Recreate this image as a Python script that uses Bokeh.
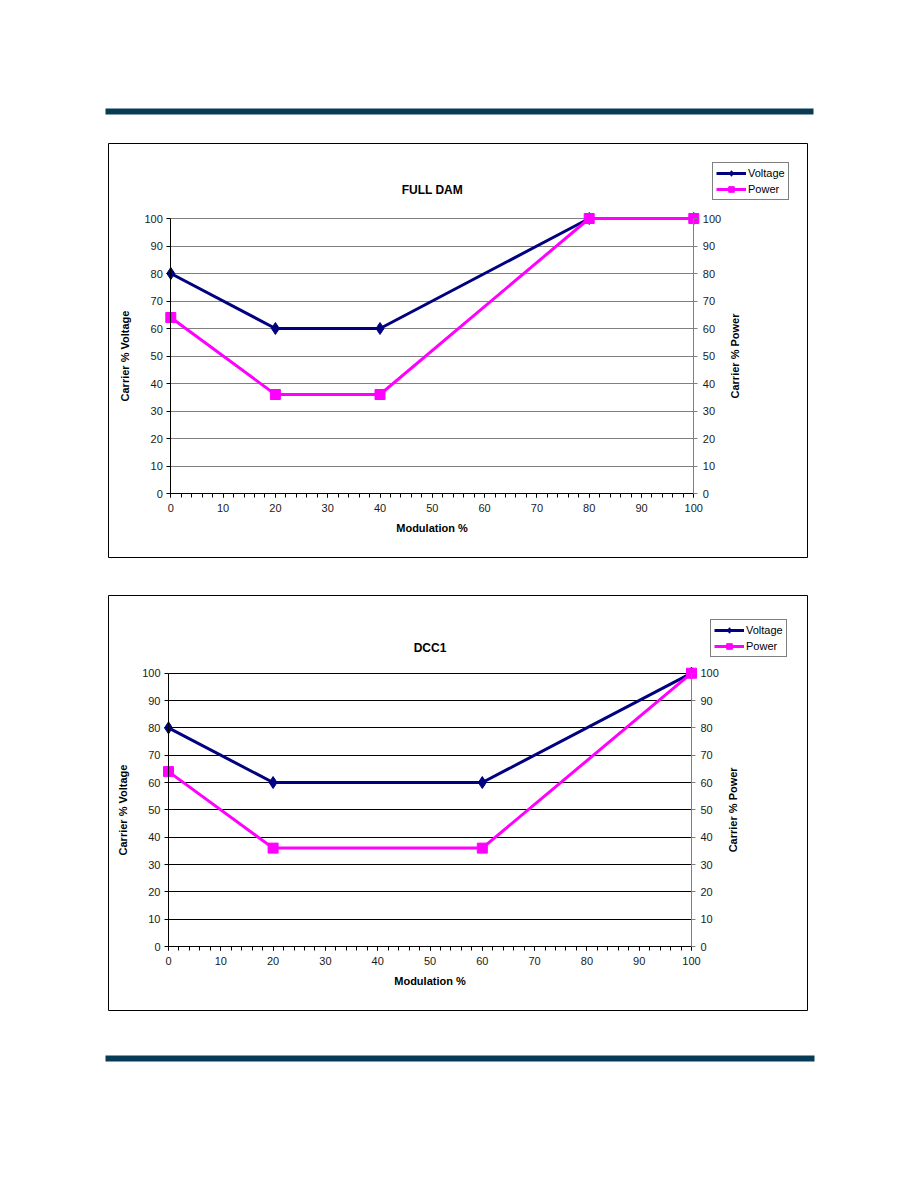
import math
from bokeh.plotting import figure
from bokeh.models import (Range1d, LinearAxis, SingleIntervalTicker, BoxAnnotation,
                          Legend, LegendItem, Label)
from bokeh.layouts import column
from bokeh.embed import file_html
from bokeh.resources import INLINE

# ---------------- data ----------------
mod_full = [0, 20, 40, 80, 100]
volt_full = [80, 60, 60, 100, 100]
power_full = [64, 36, 36, 100, 100]

mod_dcc = [0, 20, 60, 100]
volt_dcc = [80, 60, 60, 100]
power_dcc = [64, 36, 36, 100]

chart_titles = ["FULL DAM", "DCC1"]
series_names = ["Voltage", "Power"]
x_title = "Modulation %"
y_left_title = "Carrier % Voltage"
y_right_title = "Carrier % Power"

# ---------------- style ----------------
FONT = "Liberation Sans"
NAVY = "#000080"
MAG = "#FF00FF"
BAR = "#083B56"
W = 918


def canvas_box(l, r, t, b, **kw):
    return BoxAnnotation(left=l, right=r, top=t, bottom=b,
                         left_units="canvas", right_units="canvas",
                         top_units="canvas", bottom_units="canvas", **kw)


def make_chart(title, xs, volt, power, height, x0_px, x100_px, y0_px, y100_px,
               box, bars, legend_box, grid_color, title_y_px):
    # frame covers the whole canvas; axes are placed at fixed data locations
    kx = (x100_px - x0_px) / 100.0
    ky = (y0_px - y100_px) / 100.0
    xr = Range1d(-x0_px / kx, (W - x0_px) / kx)
    yr = Range1d(-(height - y0_px) / ky, y0_px / ky)
    p = figure(width=W, height=height, x_range=xr, y_range=yr,
               output_backend="svg", toolbar_location=None,
               min_border=0, min_border_left=0, min_border_right=0,
               min_border_top=0, min_border_bottom=0)
    p.outline_line_color = None
    p.background_fill_color = "white"
    p.border_fill_color = "white"

    tick10 = SingleIntervalTicker(interval=10, num_minor_ticks=0)
    xtick = SingleIntervalTicker(interval=10, num_minor_ticks=5)

    def style_axis(ax):
        ax.major_label_text_font = FONT
        ax.major_label_text_font_size = "11px"
        ax.major_label_text_color = "#1a1a1a"
        ax.axis_label_text_font = FONT
        ax.axis_label_text_font_size = "11px"
        ax.axis_label_text_font_style = "bold"
        ax.axis_label_text_color = "black"
        ax.major_tick_in = 0
        ax.major_tick_out = 4
        ax.minor_tick_in = 0
        ax.minor_tick_out = 4
        ax.bounds = (0, 100)

    xa = p.xaxis[0]
    xa.ticker = xtick
    xa.fixed_location = 0
    xa.axis_label = x_title
    style_axis(xa)
    xa.axis_line_color = "black"
    xa.major_label_standoff = 6
    xa.axis_label_standoff = 7

    ya = p.yaxis[0]
    ya.ticker = tick10
    ya.fixed_location = 0
    ya.axis_label = y_left_title
    style_axis(ya)
    ya.axis_line_color = "black"
    ya.major_label_standoff = 4
    ya.axis_label_standoff = 10

    ra = LinearAxis(ticker=SingleIntervalTicker(interval=10, num_minor_ticks=0), fixed_location=100)
    style_axis(ra)
    ra.axis_line_color = "#808080"
    ra.major_tick_line_color = "#808080"
    ra.major_label_standoff = 5
    p.add_layout(ra, "right")

    # right axis title (reads bottom-to-top like the left one)
    p.add_layout(Label(x=100 + 41 / kx, y=50, text=y_right_title, angle=math.pi / 2,
                       text_align="center", text_baseline="middle", text_color="black",
                       text_font=FONT, text_font_size="11px", text_font_style="bold"))
    # chart title
    p.add_layout(Label(x=50, y=(y0_px - title_y_px) / ky, text=title,
                       text_align="center", text_baseline="middle", text_color="black",
                       text_font=FONT, text_font_size="12px", text_font_style="bold"))

    p.xgrid.visible = False
    p.ygrid.ticker = tick10
    p.ygrid.grid_line_color = grid_color
    p.ygrid.grid_line_width = 1
    p.ygrid.cross_bounds = (0, 100)
    p.ygrid.bounds = (0, 100)

    lv = p.line(xs, volt, line_color=NAVY, line_width=3)
    sv = p.scatter(xs, volt, marker="diamond", size=12,
                   fill_color=NAVY, line_color=NAVY)
    lp = p.line(xs, power, line_color=MAG, line_width=3)
    sp = p.scatter(xs, power, marker="square", size=10, fill_color=MAG, line_color=MAG)

    lb_left, lb_bottom = legend_box
    legend = Legend(items=[LegendItem(label=series_names[0], renderers=[lv, sv]),
                           LegendItem(label=series_names[1], renderers=[lp, sp])],
                    location=(lb_left, height - lb_bottom))
    legend.border_line_color = "black"
    legend.border_line_width = 1
    legend.background_fill_color = "white"
    legend.background_fill_alpha = 1
    legend.label_text_font = FONT
    legend.label_text_font_size = "11px"
    legend.label_text_color = "black"
    legend.glyph_width = 30
    legend.glyph_height = 14
    legend.label_height = 14
    legend.label_standoff = 2
    legend.padding = 3
    legend.spacing = 2
    legend.margin = 0
    p.add_layout(legend)

    l, r, t, b = box
    p.add_layout(canvas_box(l, r, t, b, fill_alpha=0, line_color="black",
                            line_alpha=1, line_width=1))
    for (bl, br, bt, bb) in bars:
        p.add_layout(canvas_box(bl, br, bt, bb, fill_color=BAR, fill_alpha=1,
                                line_color=None))
    return p


p1 = make_chart(chart_titles[0], mod_full, volt_full, power_full, height=576,
                x0_px=170.3, x100_px=693.3, y0_px=493, y100_px=218,
                box=(108, 807, 143, 557), bars=[(105, 813, 108, 114)],
                legend_box=(712, 200), grid_color="#808080", title_y_px=189)

p2 = make_chart(chart_titles[1], mod_dcc, volt_dcc, power_dcc, height=612,
                x0_px=168, x100_px=691, y0_px=370, y100_px=96.7,
                box=(108, 807, 19, 434), bars=[(105, 814, 479, 485)],
                legend_box=(710, 81), grid_color="#000000", title_y_px=71)

layout = column(p1, p2, spacing=0)
open("out.html", "w").write(file_html(layout, INLINE))
